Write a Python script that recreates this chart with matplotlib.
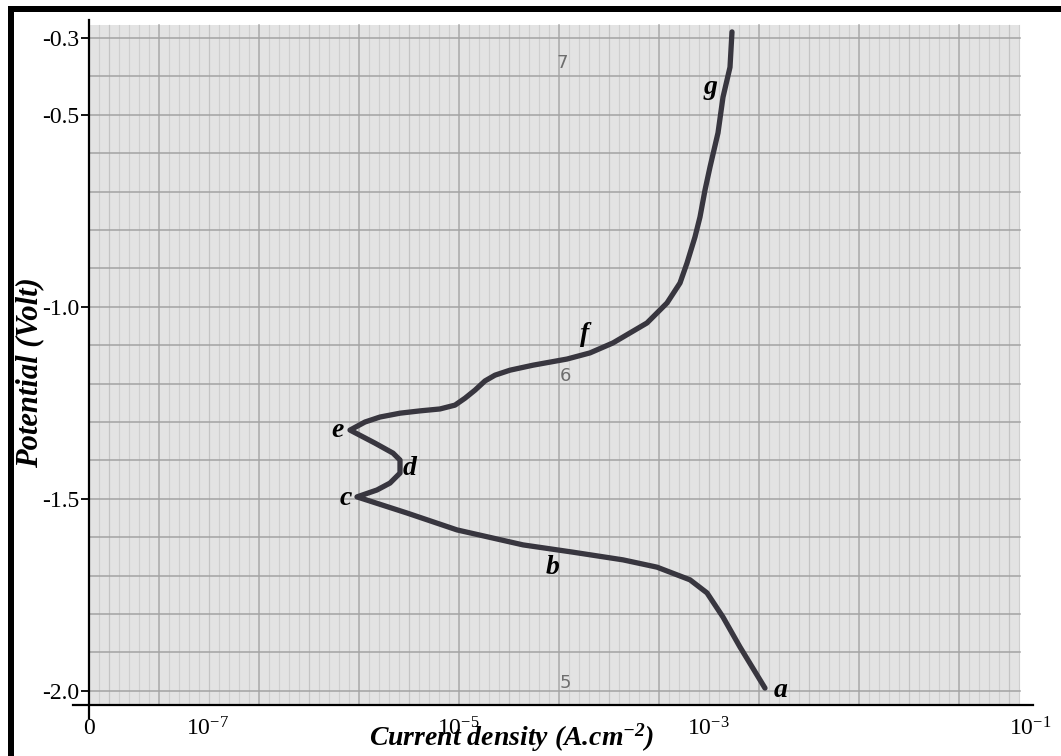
import matplotlib.pyplot as plt
from matplotlib.patches import Rectangle
import numpy as np

plt.rcParams['font.family'] = 'Liberation Serif'
plt.rcParams['mathtext.default'] = 'regular'

# polarization curve, x = log10(current density), y = potential (V)
log_i = [-2.544, -2.744, -2.88, -3.008, -3.144, -3.408, -3.68, -4.08, -4.48,
         -5.008, -5.408, -5.808,
         -5.648, -5.544, -5.464, -5.464, -5.52, -5.664, -5.864,
         -5.744, -5.624, -5.464, -5.304, -5.144, -5.024, -4.944, -4.864, -4.784,
         -4.704, -4.584, -4.4, -4.128,
         -3.944, -3.76, -3.488, -3.328, -3.224, -3.168, -3.104, -3.064, -3.024,
         -2.984, -2.92, -2.88, -2.824, -2.808]
potential = [-1.993, -1.886, -1.808, -1.745, -1.711, -1.678, -1.659, -1.639, -1.620,
             -1.581, -1.537, -1.495,
             -1.477, -1.459, -1.433, -1.399, -1.381, -1.355, -1.321,
             -1.300, -1.287, -1.277, -1.271, -1.266, -1.256, -1.238, -1.217, -1.193,
             -1.178, -1.165, -1.152, -1.136,
             -1.120, -1.094, -1.042, -0.990, -0.938, -0.886, -0.818, -0.766, -0.696,
             -0.636, -0.547, -0.454, -0.376, -0.284]

point_names = ['a', 'b', 'c', 'd', 'e', 'f', 'g']
point_x = [-2.416, -4.24, -5.896, -5.384, -5.96, -3.984, -2.984]
point_y = [-1.998, -1.680, -1.498, -1.420, -1.323, -1.073, -0.428]

paper_nums = ['7', '6', '5']
paper_x = [-4.168, -4.144, -4.144]
paper_y = [-0.365, -1.180, -1.980]

xtick_pos = [-7.952, -7, -5, -3, -0.424]
xtick_lbl = ['0', '10$^{-7}$', '10$^{-5}$', '10$^{-3}$', '10$^{-1}$']
ytick_pos = [-0.3, -0.5, -1.0, -1.5, -2.0]
ytick_lbl = ['-0.3', '-0.5', '-1.0', '-1.5', '-2.0']

W, H = 1061, 756
fig = plt.figure(figsize=(W / 100, H / 100), dpi=100)
ax = fig.add_axes([89 / W, (H - 705) / H, (1033 - 89) / W, (705 - 20) / H])
ax.set_facecolor('white')
ax.set_xlim(-7.952, -0.4)
ax.set_ylim(-2.037, -0.253)

# graph paper
x0, x1 = -7.952, -0.504
y0, y1 = -2.037, -0.266
ax.add_patch(Rectangle((x0, y0), x1 - x0, y1 - y0, facecolor='#e3e3e3',
                       edgecolor='none', zorder=0))
major = -7.392 + 0.8 * np.arange(-1, 10)
for m in major:
    for k in range(10):
        xv = m + 0.08 * k
        if xv <= x0 + 0.01 or xv >= x1:
            continue
        if k == 0:
            ax.plot([xv, xv], [y0, y1], color='#a9a9a9', lw=1.1, zorder=1)
        elif k == 5:
            ax.plot([xv, xv], [y0, y1], color='#c4c4c4', lw=0.9, zorder=1)
        else:
            ax.plot([xv, xv], [y0, y1], color='#cfcfcf', lw=0.8, zorder=1)
for k in range(18):
    yv = -0.3 - 0.1 * k
    ax.plot([x0, x1], [yv, yv], color='#a3a3a3', lw=1.1, zorder=1)

for t, xx, yy in zip(paper_nums, paper_x, paper_y):
    ax.text(xx, yy, t, fontsize=13, color='#6e6e6e',
            family=['Liberation Sans Narrow', 'DejaVu Sans'],
            ha='center', va='center', zorder=2)

ax.plot(log_i, potential, color='#38363f', lw=3.8, solid_joinstyle='round',
        solid_capstyle='round', zorder=3)

for t, xx, yy in zip(point_names, point_x, point_y):
    ax.text(xx, yy, t, fontsize=20, fontweight='bold', style='italic',
            ha='center', va='center', zorder=4)

# axes lines
for s in ax.spines.values():
    s.set_visible(False)
ax.plot([-8.08, -0.4], [-2.037, -2.037], color='black', lw=1.6, clip_on=False, zorder=5)
ax.plot([-7.952, -7.952], [-2.07, -0.253], color='black', lw=1.6, clip_on=False, zorder=5)

ax.set_xticks(xtick_pos)
ax.set_xticklabels(xtick_lbl, fontsize=17)
ax.tick_params(axis='x', length=0, pad=9)
ax.set_yticks(ytick_pos)
ax.set_yticklabels(ytick_lbl, fontsize=17)
ax.tick_params(axis='y', length=6, width=1.3, pad=1)

fig.text(512 / W, 1 - 738 / H, 'Current density (A.cm$^{-2}$)', fontsize=20,
         fontweight='bold', style='italic', ha='center', va='center')
fig.text(30 / W, 1 - 373 / H, 'Potential (Volt)', fontsize=22, fontweight='bold',
         style='italic', ha='center', va='center', rotation=90)

# scanned frame edges
fig.add_artist(Rectangle((8 / W, 0), 6 / W, 1 - 6 / H, transform=fig.transFigure,
                         facecolor='black', edgecolor='none'))
fig.add_artist(Rectangle((8 / W, 1 - 12 / H), 1, 6 / H, transform=fig.transFigure,
                         facecolor='black', edgecolor='none'))

fig.savefig('out.png', dpi=100)
